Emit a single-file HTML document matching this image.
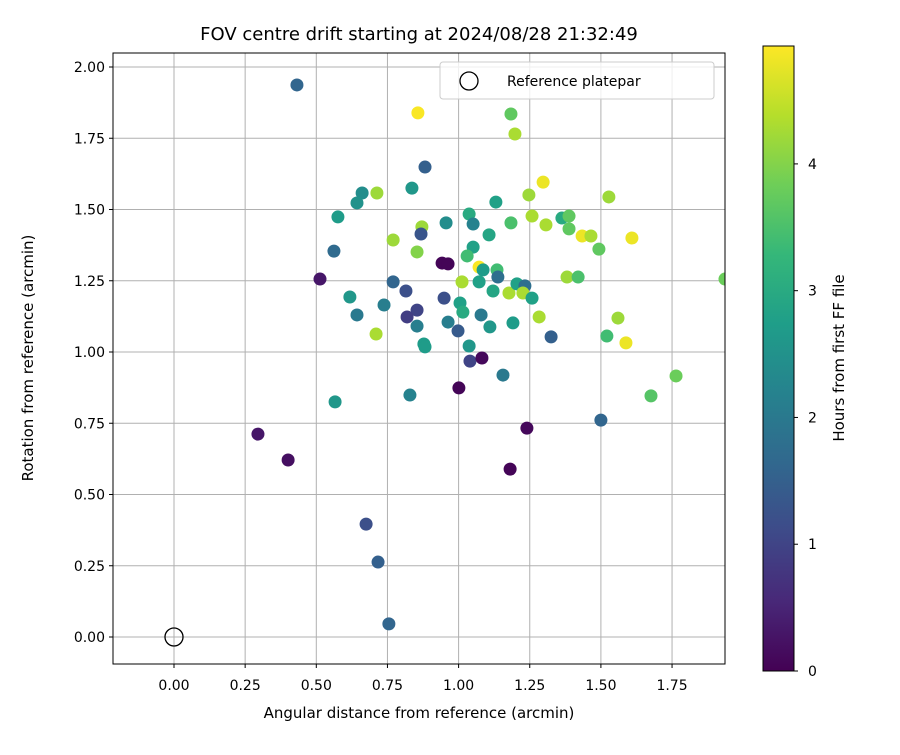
<!DOCTYPE html>
<html><head><meta charset="utf-8"><style>body{margin:0;background:#fff}svg{font-family:"DejaVu Sans","Liberation Sans",sans-serif}</style></head>
<body>
<svg id="c" width="900" height="750" xmlns="http://www.w3.org/2000/svg"></svg>
<script>
const xs=[0.432,0.857,1.184,1.198,0.882,1.297,0.836,1.131,0.661,0.643,0.713,0.576,1.037,1.051,1.184,0.956,1.107,0.871,0.868,0.770,1.051,1.030,0.854,0.562,0.942,0.963,1.072,1.135,1.138,1.086,0.513,1.012,1.072,0.770,0.815,1.121,1.177,1.205,0.618,0.949,1.005,1.015,0.854,0.819,0.738,0.643,1.079,1.110,1.191,0.963,0.854,0.710,0.998,0.878,0.882,1.037,1.040,1.082,1.156,1.247,1.528,1.258,1.307,1.363,1.388,1.388,1.434,1.465,1.609,1.493,1.381,1.420,1.233,1.226,1.258,1.283,1.560,1.521,1.588,1.325,0.566,0.829,1.001,1.240,1.181,0.295,0.401,0.675,0.717,0.755,1.500,1.676,1.764,1.936];
const ys=[1.937,1.839,1.835,1.765,1.649,1.596,1.575,1.526,1.558,1.523,1.558,1.474,1.484,1.449,1.453,1.453,1.411,1.439,1.414,1.393,1.368,1.337,1.351,1.354,1.312,1.309,1.298,1.288,1.263,1.288,1.256,1.246,1.246,1.246,1.214,1.214,1.207,1.239,1.193,1.189,1.172,1.140,1.147,1.123,1.165,1.130,1.130,1.088,1.102,1.105,1.091,1.063,1.074,1.028,1.018,1.021,0.968,0.979,0.919,1.551,1.544,1.477,1.446,1.470,1.477,1.432,1.407,1.407,1.400,1.361,1.263,1.263,1.232,1.207,1.189,1.123,1.119,1.056,1.032,1.053,0.825,0.849,0.874,0.733,0.589,0.712,0.621,0.396,0.263,0.046,0.761,0.846,0.916,1.256];
const hours=[1.6,4.9,3.7,4.3,1.5,4.8,2.6,2.8,2.4,2.5,4.2,2.7,3.0,2.2,3.5,2.4,2.9,4.2,1.3,4.2,2.8,3.4,4.0,1.7,0.05,0.05,4.9,3.4,1.8,2.7,0.3,4.3,2.8,1.6,1.2,2.9,4.3,2.8,2.6,1.2,2.8,3.0,1.0,0.9,2.1,2.0,2.0,2.6,2.7,2.1,2.1,4.3,1.4,2.7,2.7,2.6,1.0,0.1,2.0,4.2,4.2,4.3,4.3,3.0,3.7,3.7,4.8,4.3,4.8,3.7,4.2,3.5,1.8,4.3,2.8,4.3,4.2,3.4,4.8,1.5,2.6,2.2,0.05,0.1,0.05,0.3,0.2,1.2,1.5,1.6,1.6,3.6,3.8,3.8];
const xTicks=[0,0.25,0.5,0.75,1,1.25,1.5,1.75];
const yTicks=[0,0.25,0.5,0.75,1,1.25,1.5,1.75,2];
const cTicks=[0,1,2,3,4];
const hMax=4.93;
const L=113,R=725,T=53,B=664;
const X=v=>174+v*284.6, Y=v=>637-v*285;
const CB={x:763,w:31,top:46,bot:671};
const C=h=>CB.bot-(h/hMax)*(CB.bot-CB.top);
const vir=[[68,1,84],[72,40,120],[62,74,137],[49,104,142],[38,130,142],[31,158,137],[53,183,121],[110,206,88],[181,222,43],[253,231,37]];
function col(t){t=Math.max(0,Math.min(1,t));const p=t*9,i=Math.min(8,Math.floor(p)),f=p-i;const a=vir[i],b=vir[i+1];return `rgb(${a.map((v,k)=>Math.round(v+(b[k]-v)*f)).join(',')})`;}
const s=document.getElementById('c');const NS='http://www.w3.org/2000/svg';
function el(t,at,txt,par){const e=document.createElementNS(NS,t);for(const k in at)e.setAttribute(k,at[k]);if(txt!=null)e.textContent=txt;(par||s).appendChild(e);return e;}
const defs=el('defs',{});const cp=el('clipPath',{id:'pc'},null,defs);el('rect',{x:L,y:T,width:R-L,height:B-T},null,cp);
const gr=el('linearGradient',{id:'vg',x1:0,y1:1,x2:0,y2:0},null,defs);
for(let i=0;i<=9;i++)el('stop',{offset:i/9,'stop-color':col(i/9)},null,gr);
const grid=el('g',{stroke:'#b0b0b0','stroke-width':1});

xTicks.forEach(v=>{el('line',{x1:X(v),x2:X(v),y1:T,y2:B},null,grid);el('line',{x1:X(v),x2:X(v),y1:B,y2:B+4,stroke:'#000'});
const t=el('text',{x:X(v),y:B+26,'text-anchor':'middle','font-size':14},v.toFixed(2));});
yTicks.forEach(v=>{el('line',{x1:L,x2:R,y1:Y(v),y2:Y(v)},null,grid);el('line',{x1:L-4,x2:L,y1:Y(v),y2:Y(v),stroke:'#000'});
const t=el('text',{x:L-8,y:Y(v)+5,'text-anchor':'end','font-size':14},v.toFixed(2));});
const pts=el('g',{'clip-path':'url(#pc)'});
xs.forEach((x,i)=>{const c=el('circle',{cx:X(x),cy:Y(ys[i]),r:6.5,fill:col(hours[i]/hMax)},null,pts);});
const ref=el('circle',{cx:X(0),cy:Y(0),r:9,fill:'none',stroke:'#000','stroke-width':1.3});
el('rect',{x:L,y:T,width:R-L,height:B-T,fill:'none',stroke:'#000','stroke-width':1});
const lg=el('g',{});
el('rect',{x:440,y:62,width:274,height:37,rx:3,fill:'#fff','fill-opacity':0.8,stroke:'#ccc'},null,lg);
el('circle',{cx:469,cy:81,r:9,fill:'none',stroke:'#000','stroke-width':1.3},null,lg);
el('text',{x:507,y:86,'font-size':14},'Reference platepar',lg);
const ti=el('text',{x:419,y:40,'text-anchor':'middle','font-size':18},'FOV centre drift starting at 2024/08/28 21:32:49');
const xl=el('text',{x:419,y:718,'text-anchor':'middle','font-size':15},'Angular distance from reference (arcmin)');
const yl=el('text',{x:37,y:358,'text-anchor':'middle','font-size':15,transform:'rotate(-90 37 358)'},'Rotation from reference (arcmin)');
yl.setAttribute('x',33);yl.setAttribute('transform','rotate(-90 33 358)');
const cb=el('rect',{x:CB.x,y:CB.top,width:CB.w,height:CB.bot-CB.top,fill:'url(#vg)',stroke:'#000','stroke-width':1});
cTicks.forEach(v=>{el('line',{x1:CB.x+CB.w,x2:CB.x+CB.w+4,y1:C(v),y2:C(v),stroke:'#000'});const t=el('text',{x:CB.x+CB.w+14,y:C(v)+5,'font-size':14},String(v));});
const cl=el('text',{x:844,y:358,'text-anchor':'middle','font-size':15,transform:'rotate(-90 844 358)'},'Hours from first FF file');
</script>
</body></html>
